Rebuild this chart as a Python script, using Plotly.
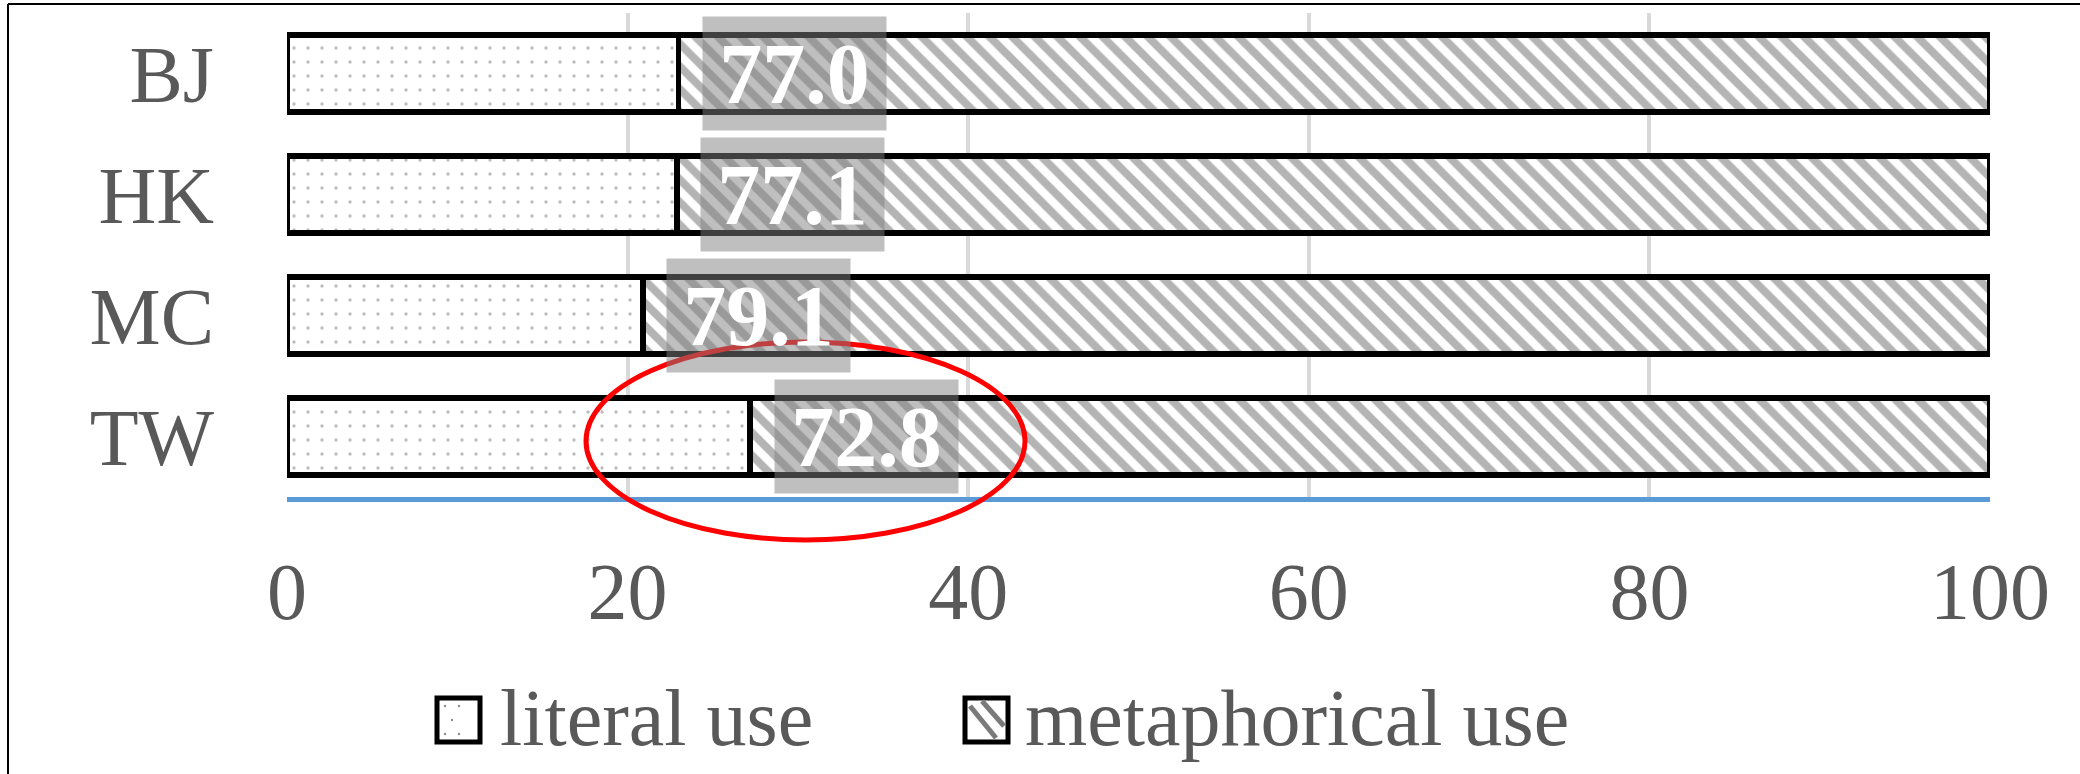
import plotly.graph_objects as go

# Share of literal vs. metaphorical use per region (percent)
regions = ["BJ", "HK", "MC", "TW"]
metaphorical = [77.0, 77.1, 79.1, 72.8]
literal = [23.0, 22.9, 20.9, 27.2]
x_ticks = [0, 20, 40, 60, 80, 100]
series_names = ["literal use", "metaphorical use"]

# Canvas and plot-area geometry (px)
W, H = 2080, 774
L, R, T, B = 287, 90, 13, 277
PW = W - L - R
PH = H - T - B


def px(x):
    """Pixel x -> paper x."""
    return (x - L) / PW


def py(y):
    """Pixel y (from top) -> paper y."""
    return (H - B - y) / PH


FONT = "Liberation Serif"
TEXT_GREY = "#595959"
FONT_SIZE = 80
LABEL_SIZE = 86

fig = go.Figure()

fig.add_trace(go.Bar(
    y=regions, x=literal, orientation="h", name=series_names[0],
    marker=dict(
        color="white",
        line=dict(color="black", width=5.5),
        pattern=dict(shape=".", fgcolor="#7a7a7a", bgcolor="white",
                     size=14, solidity=0.045),
    ),
))
fig.add_trace(go.Bar(
    y=regions, x=metaphorical, orientation="h", name=series_names[1],
    marker=dict(
        color="white",
        line=dict(color="black", width=5.5),
        pattern=dict(shape="\\", fgcolor="#6a6a6a", bgcolor="white",
                     size=16, solidity=0.5),
    ),
))

# Value labels for the metaphorical share, in translucent grey boxes
for reg, lit, met in zip(regions, literal, metaphorical):
    fig.add_annotation(
        x=lit + 6.8, y=reg, xref="x", yref="y",
        text=f"{met:.1f}", showarrow=False,
        font=dict(family=FONT, size=LABEL_SIZE, color="white", weight="bold"),
        bgcolor="rgba(128,128,128,0.5)",
        width=183, height=113, borderpad=0,
    )

# Red ellipse highlighting the TW value
fig.add_shape(type="circle", xref="paper", yref="paper",
              x0=px(586), x1=px(1025), y0=py(540), y1=py(342),
              line=dict(color="#ff0000", width=5), fillcolor="rgba(0,0,0,0)",
              layer="above")

# Legend keys
fig.add_shape(type="rect", xref="paper", yref="paper",
              x0=px(437), x1=px(480), y0=py(742), y1=py(698),
              line=dict(color="black", width=5), fillcolor="white")
fig.add_shape(type="rect", xref="paper", yref="paper",
              x0=px(965), x1=px(1008), y0=py(742), y1=py(698),
              line=dict(color="black", width=5), fillcolor="white")
for (xa, ya, xb, yb) in [(970, 706, 996, 738), (982, 701, 1004, 726)]:
    fig.add_shape(type="line", xref="paper", yref="paper",
                  x0=px(xa), y0=py(ya), x1=px(xb), y1=py(yb),
                  line=dict(color="#7a7a7a", width=5))
for (dx, dy) in [(445, 706), (459, 706), (452, 720), (445, 734), (459, 734)]:
    fig.add_shape(type="circle", xref="paper", yref="paper",
                  x0=px(dx - 1.2), x1=px(dx + 1.2), y0=py(dy + 1.2), y1=py(dy - 1.2),
                  line=dict(width=0), fillcolor="#8c8c8c")
for x_txt, name in [(498, series_names[0]), (1023, series_names[1])]:
    fig.add_annotation(x=px(x_txt), y=py(718), xref="paper", yref="paper",
                       xanchor="left", yanchor="middle", showarrow=False,
                       text=name,
                       font=dict(family=FONT, size=FONT_SIZE, color=TEXT_GREY))

# Frame lines along the top and left edge
fig.add_shape(type="line", xref="paper", yref="paper",
              x0=px(8), x1=px(W + 5), y0=py(4), y1=py(4),
              line=dict(color="black", width=2))
fig.add_shape(type="line", xref="paper", yref="paper",
              x0=px(8), x1=px(8), y0=py(4), y1=py(H + 5),
              line=dict(color="black", width=2))

fig.update_layout(
    width=W, height=H,
    margin=dict(l=L, r=R, t=T, b=B, pad=0),
    barmode="stack", bargap=0.36,
    showlegend=False,
    plot_bgcolor="white", paper_bgcolor="white",
    font=dict(family=FONT, size=FONT_SIZE, color=TEXT_GREY),
)
fig.update_xaxes(
    range=[0, 100], tickvals=x_ticks,
    showgrid=True, gridcolor="#d9d9d9", gridwidth=4,
    zeroline=False, showline=True, linecolor="#5b9bd5", linewidth=5,
    ticks="", ticklabelstandoff=21,
    tickfont=dict(family=FONT, size=FONT_SIZE, color=TEXT_GREY),
)
fig.update_yaxes(
    categoryorder="array", categoryarray=regions, range=[3.5, -0.5],
    showgrid=False, zeroline=False, showline=False,
    ticks="", ticklabelstandoff=72,
    tickfont=dict(family=FONT, size=FONT_SIZE, color=TEXT_GREY),
)

fig.write_html("out.html")
